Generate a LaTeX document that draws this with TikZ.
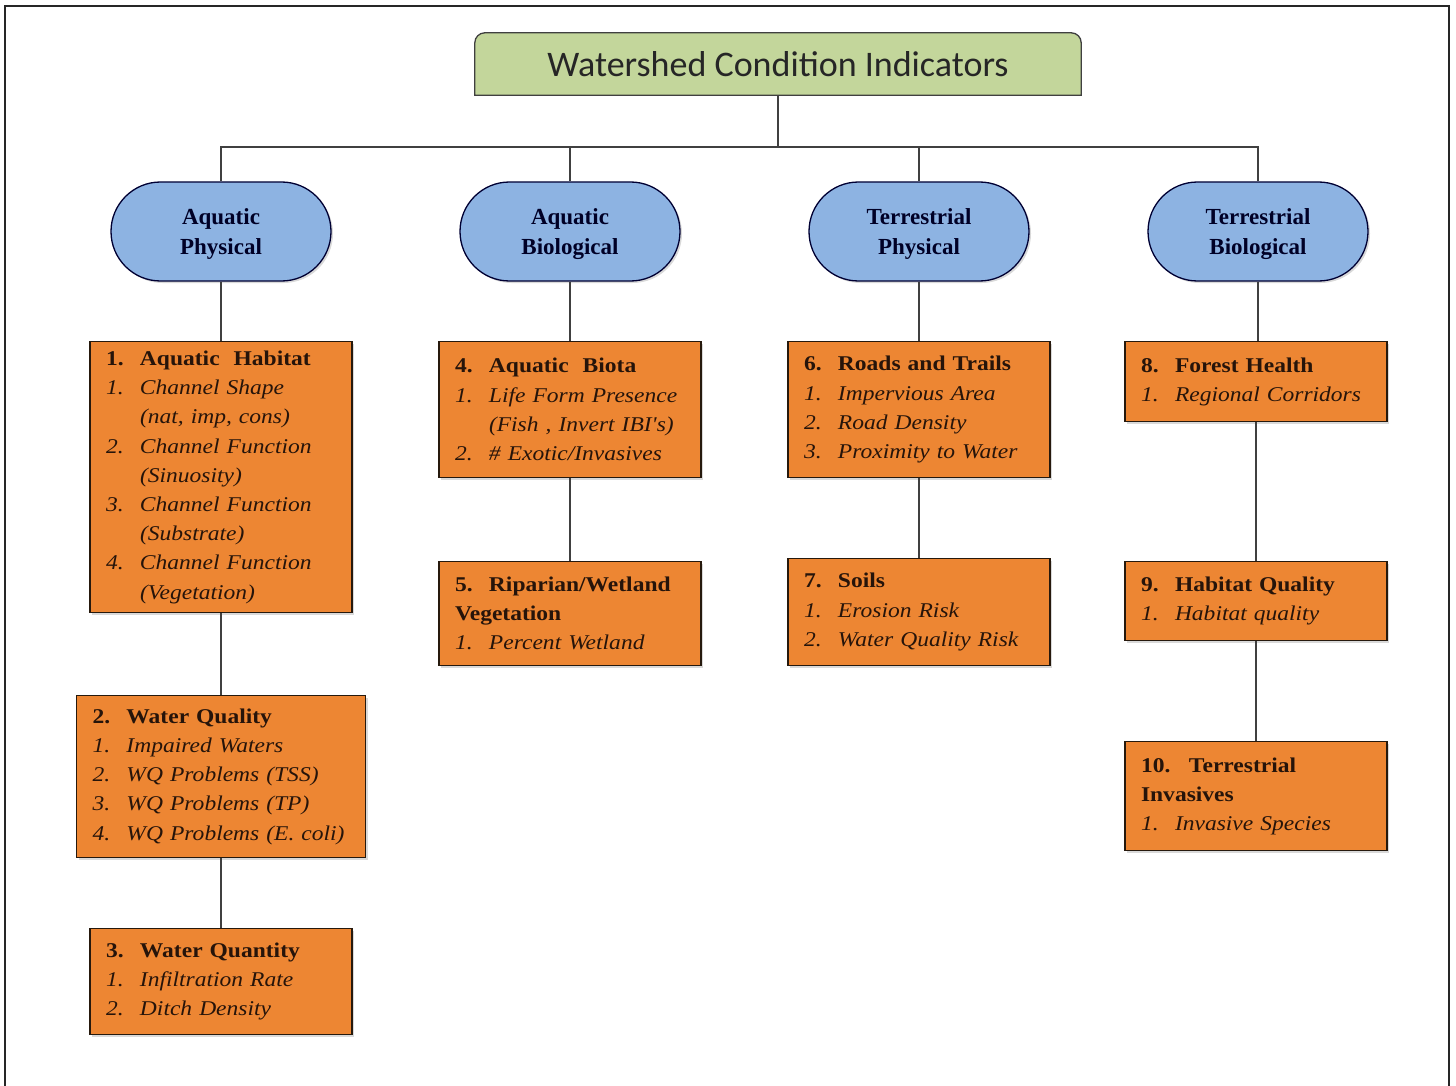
\documentclass[tikz,border=0pt]{standalone}
\usepackage{fontspec}
\setmainfont{Liberation Serif}
\newfontfamily\titlefont{Carlito}
\newfontfamily\boxfont{Liberation Serif}[FakeStretch=1.12]
\usetikzlibrary{positioning, shapes.misc, shadows, backgrounds}

\definecolor{titlegreen}{RGB}{195,214,155}
\definecolor{ovalblue}{RGB}{141,179,226}
\definecolor{boxorange}{RGB}{237,134,51}
\definecolor{boxtext}{RGB}{38,20,10}
\definecolor{linkgray}{RGB}{64,64,64}

% number column inside the indicator boxes
\newcommand{\num}[1]{\makebox[34pt][l]{#1}}
\newcommand{\cont}{\hspace*{34pt}}

\begin{document}
\begin{tikzpicture}[
  x=1pt, y=-1pt,
  every node/.style={inner sep=0pt},
  titlebox/.style={
    rectangle, minimum width=606pt, minimum height=62pt,
    font=\titlefont\fontsize{36}{40}\selectfont, text=black!85,
  },
  titleframe/.style={draw=black!75, line width=1.3pt, fill=titlegreen},
  category/.style={
    rounded rectangle, draw=black!80!blue, line width=1.3pt, fill=ovalblue,
    minimum width=220pt, minimum height=99pt, align=center, text depth=-3pt,
    font=\fontsize{23}{30}\selectfont\bfseries, text=black!85!blue,
    drop shadow={shadow xshift=2pt, shadow yshift=-2pt, opacity=.3},
  },
  indbox/.style={
    rectangle, draw=black!80!brown, line width=1.3pt, fill=boxorange,
    minimum width=262pt, text width=230pt, align=left, anchor=north,
    font=\boxfont\fontsize{21}{29.2}\selectfont, text=boxtext,
    drop shadow={shadow xshift=2pt, shadow yshift=-2pt, opacity=.3},
  },
  link/.style={draw=linkgray, line width=1.6pt},
]
\useasboundingbox (0,0) rectangle (1456,1086);

% ── Column x-positions ─────────────────────────────────────────────
\def\cA{221}
\def\cB{570}
\def\cC{919}
\def\cD{1256}

% ── Outer frame (open at the bottom) ───────────────────────────────
\draw[line width=2.6pt, draw=black!85] (5,1086) -- (5,6) -- (1449,6) -- (1449,1086);

% ── Title ──────────────────────────────────────────────────────────
\node[titlebox] (title) at (778,64) {Watershed Condition Indicators};
\begin{scope}[on background layer]
  \draw[titleframe] (title.south west) {[rounded corners=10pt] -- (title.north west)
    -- (title.north east)} -- (title.south east) -- cycle;
\end{scope}

% ── Four categories ────────────────────────────────────────────────
\node[category] (aqphys)  at (\cA,231.5) {Aquatic\\Physical};
\node[category] (aqbio)   at (\cB,231.5) {Aquatic\\Biological};
\node[category] (terphys) at (\cC,231.5) {Terrestrial\\Physical};
\node[category] (terbio)  at (\cD+2,231.5) {Terrestrial\\Biological};

% ── Aquatic physical ───────────────────────────────────────────────
\node[indbox, minimum height=271pt] (habitat) at (\cA,341) {%
  \textbf{\num{1.}Aquatic\ \ Habitat}\\
  \textit{\num{1.}Channel Shape}\\
  \textit{\cont(nat, imp, cons)}\\
  \textit{\num{2.}Channel Function}\\
  \textit{\cont(Sinuosity)}\\
  \textit{\num{3.}Channel Function}\\
  \textit{\cont(Substrate)}\\
  \textit{\num{4.}Channel Function}\\
  \textit{\cont(Vegetation)}};
\node[indbox, minimum width=289pt, text width=257pt, minimum height=162pt]
  (wquality) at (\cA,695) {%
  \textbf{\num{2.}Water Quality}\\
  \textit{\num{1.}Impaired Waters}\\
  \textit{\num{2.}WQ Problems (TSS)}\\
  \textit{\num{3.}WQ Problems (TP)}\\
  \textit{\num{4.}WQ Problems (E. coli)}};
\node[indbox, minimum height=106pt] (wquantity) at (\cA,928) {%
  \textbf{\num{3.}Water Quantity}\\
  \textit{\num{1.}Infiltration Rate}\\
  \textit{\num{2.}Ditch Density}};

% ── Aquatic biological ─────────────────────────────────────────────
\node[indbox, minimum height=136pt] (biota) at (\cB,341) {%
  \textbf{\num{4.}Aquatic\ \ Biota}\\
  \textit{\num{1.}Life Form Presence}\\
  \textit{\cont(Fish , Invert IBI's)}\\
  \textit{\num{2.}\# Exotic/Invasives}};
\node[indbox, minimum height=104pt] (riparian) at (\cB,561) {%
  \textbf{\num{5.}Riparian/Wetland}\\
  \textbf{Vegetation}\\
  \textit{\num{1.}Percent Wetland}};

% ── Terrestrial physical ───────────────────────────────────────────
\node[indbox, minimum height=136pt] (roads) at (\cC,341) {%
  \textbf{\num{6.}Roads and\ Trails}\\
  \textit{\num{1.}Impervious Area}\\
  \textit{\num{2.}Road Density}\\
  \textit{\num{3.}Proximity to Water}};
\node[indbox, minimum height=107pt] (soils) at (\cC,558) {%
  \textbf{\num{7.}Soils}\\
  \textit{\num{1.}Erosion Risk}\\
  \textit{\num{2.}Water Quality Risk}};

% ── Terrestrial biological ─────────────────────────────────────────
\node[indbox, minimum height=80pt] (forest) at (\cD,341) {%
  \textbf{\num{8.}Forest Health}\\
  \textit{\num{1.}Regional\ Corridors}};
\node[indbox, minimum height=79pt] (hquality) at (\cD,561) {%
  \textbf{\num{9.}Habitat\ Quality}\\
  \textit{\num{1.}Habitat quality}};
\node[indbox, minimum height=109pt] (invasives) at (\cD,741) {%
  \textbf{\makebox[48pt][l]{10.}Terrestrial}\\
  \textbf{Invasives}\\
  \textit{\num{1.}Invasive Species}};

% ── Title -> categories (bus) ──────────────────────────────────────
\coordinate (busJ) at (778,147);
\draw[link] (title.south) -- (busJ);
\foreach \cat in {aqphys, aqbio, terphys, terbio}
  \draw[link] (busJ) -| (\cat.north);

% ── Category -> first indicator, indicator -> next ─────────────────
\draw[link] (aqphys.south)   -- (habitat.north);
\draw[link] (habitat.south)  -- (wquality.north);
\draw[link] (wquality.south) -- (wquantity.north);
\draw[link] (aqbio.south)    -- (biota.north);
\draw[link] (biota.south)    -- (riparian.north);
\draw[link] (terphys.south)  -- (roads.north);
\draw[link] (roads.south)    -- (soils.north);
\draw[link] (terbio.south)   -- (forest.north -| terbio.south);
\draw[link] (forest.south)   -- (hquality.north);
\draw[link] (hquality.south) -- (invasives.north);

\end{tikzpicture}
\end{document}
